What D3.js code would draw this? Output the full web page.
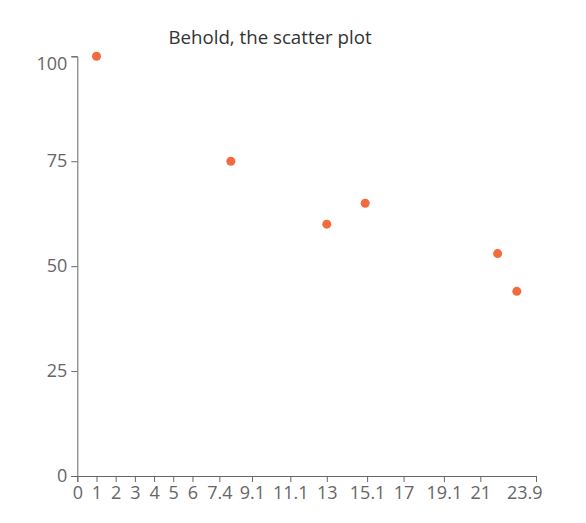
<!DOCTYPE html>
<html>
<head>
<meta charset="utf-8">
<script src="https://cdn.jsdelivr.net/npm/d3@7"></script>
<style>
  html, body { margin: 0; padding: 0; background: #fff; }
  svg { display: block; font-family: "Open Sans", "Noto Sans", sans-serif; }
</style>
</head>
<body>
<svg id="chart" width="586" height="523"></svg>
<script>
const title = "Behold, the scatter plot";
const xValues = [1, 8, 13, 15, 21.9, 22.9];
const yValues = [100, 75, 60, 65, 53, 44];
const xTicks = [0, 1, 2, 3, 4, 5, 6, 7.4, 9.1, 11.1, 13, 15.1, 17, 19.1, 21, 23.9];
const yTicks = [0, 25, 50, 75, 100];

const svg = d3.select("#chart");
const m = { left: 77.3, right: 536, top: 56.3, bottom: 476 };

const x = d3.scaleLinear().domain([0, 23.9]).range([m.left, m.right]);
const y = d3.scaleLinear().domain([0, 100]).range([m.bottom, m.top]);

svg.append("text")
  .attr("x", 270).attr("y", 44)
  .attr("text-anchor", "middle")
  .attr("font-size", 18.7)
  .attr("fill", "#333")
  .text(title);

const xAxis = svg.append("g")
  .attr("transform", `translate(0,${m.bottom})`)
  .call(d3.axisBottom(x).tickValues(xTicks).tickFormat(d => String(d)).tickSizeOuter(0).tickSize(6).tickPadding(4));
const yAxis = svg.append("g")
  .attr("transform", `translate(${m.left},0)`)
  .call(d3.axisLeft(y).tickValues(yTicks).tickSizeOuter(0).tickSize(6).tickPadding(4));

[xAxis, yAxis].forEach(g => {
  g.attr("font-family", null).attr("font-size", null);
  g.select(".domain").attr("stroke", "#666");
  g.selectAll(".tick line").attr("stroke", "#666");
  g.selectAll(".tick text").attr("fill", "#666").attr("font-size", 18);
});

// edge label adjustments (keep inside chart)
xAxis.selectAll(".tick text").filter(d => d === 23.9)
  .attr("text-anchor", "end").attr("x", 6);
yAxis.selectAll(".tick text").filter(d => d === 100)
  .attr("dy", "0.75em");

svg.append("g").selectAll("circle")
  .data(xValues.map((v, i) => [v, yValues[i]]))
  .join("circle")
  .attr("cx", d => x(d[0]))
  .attr("cy", d => y(d[1]))
  .attr("r", 4.5)
  .attr("fill", "#f26b3d");
</script>
</body>
</html>
